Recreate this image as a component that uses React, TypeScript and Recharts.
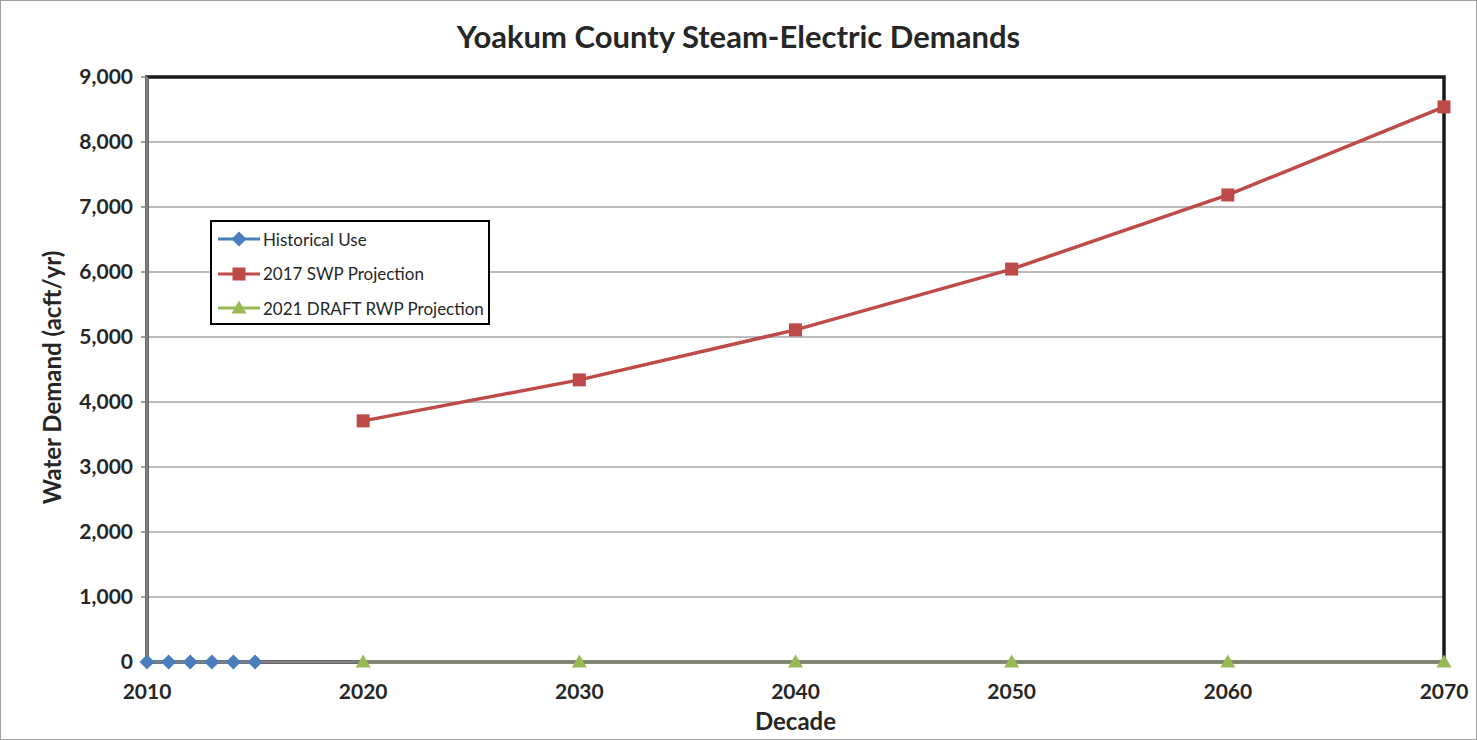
import React from 'react';
import { LineChart, Line, XAxis, YAxis, CartesianGrid, ReferenceArea } from 'recharts';

// Historical use (yearly), 2010-2015
const historicalYears = [2010, 2011, 2012, 2013, 2014, 2015];
const historicalUse = [0, 0, 0, 0, 0, 0];

// Decadal projections
const decades = [2020, 2030, 2040, 2050, 2060, 2070];
const swp2017 = [3710, 4340, 5110, 6045, 7185, 8540];
const rwp2021 = [0, 0, 0, 0, 0, 0];

const xTicks = [2010, 2020, 2030, 2040, 2050, 2060, 2070];
const yTicks = [0, 1000, 2000, 3000, 4000, 5000, 6000, 7000, 8000, 9000];

const BLUE = '#4a7ebb';
const RED = '#be4b48';
const GREEN = '#98b954';
const FONT = 'Lato, "Open Sans", sans-serif';

const historicalData = historicalYears.map((year, i) => ({ year, value: historicalUse[i] }));
const swpData = decades.map((year, i) => ({ year, value: swp2017[i] }));
const rwpData = decades.map((year, i) => ({ year, value: rwp2021[i] }));

const Diamond = ({ cx, cy, fill }: any) => {
    if (cx == null || cy == null) return null;
    return <path d={`M${cx},${cy - 7.5}L${cx + 7.5},${cy}L${cx},${cy + 7.5}L${cx - 7.5},${cy}Z`} fill={fill} />;
};
const Square = ({ cx, cy, fill }: any) => {
    if (cx == null || cy == null) return null;
    return <rect x={cx - 6.5} y={cy - 6.5} width={13} height={13} fill={fill} />;
};
const Triangle = ({ cx, cy, fill }: any) => {
    if (cx == null || cy == null) return null;
    return <path d={`M${cx},${cy - 7.5}L${cx + 7.5},${cy + 5.5}L${cx - 7.5},${cy + 5.5}Z`} fill={fill} />;
};

const legendItems = [
    { name: 'Historical Use', color: BLUE, Marker: Diamond },
    { name: '2017 SWP Projection', color: RED, Marker: Square },
    { name: '2021 DRAFT RWP Projection', color: GREEN, Marker: Triangle },
];

const LegendBox = () => (
    <div style={{ position: 'absolute', left: 210, top: 220, width: 276, height: 101, border: '2px solid #000', background: '#fff', fontFamily: FONT, fontSize: 17, color: '#262626' }}>
        {legendItems.map((item, i) => (
            <div key={i} style={{ display: 'flex', alignItems: 'center', height: 34.5 }}>
                <svg width={47} height={20} style={{ marginLeft: 4 }}>
                    <line x1={2} y1={10} x2={44} y2={10} stroke={item.color} strokeWidth={3} />
                    <item.Marker cx={23} cy={10} fill={item.color} />
                </svg>
                <span>{item.name}</span>
            </div>
        ))}
    </div>
);

const App: React.FC = () => {
    return (
        <div style={{ position: 'absolute', left: 0, top: 0, width: 1477, height: 740, background: '#fff' }}>
            <div style={{ position: 'absolute', left: 0, right: 0, top: 17, textAlign: 'center', fontFamily: FONT, fontWeight: 700, fontSize: 31, color: '#262626' }}>
                Yoakum County Steam-Electric Demands
            </div>
            <LineChart width={1477} height={740} margin={{ top: 77, right: 33, bottom: 18, left: 30 }} style={{ position: 'absolute', left: 0, top: 0 }}>
                <CartesianGrid vertical={false} stroke="#a6a6a6" strokeWidth={1.5} />
                <ReferenceArea x1={2010} x2={2070} y1={0} y2={9000} fill="none" stroke="#1a1a1a" strokeWidth={3.5} ifOverflow="visible" />
                <XAxis
                    dataKey="year"
                    type="number"
                    domain={[2010, 2070]}
                    ticks={xTicks}
                    height={60}
                    allowDuplicatedCategory={false}
                    tickLine={false}
                    axisLine={{ stroke: '#808080', strokeWidth: 3 }}
                    tick={{ fill: '#262626', fontSize: 21, fontWeight: 700, fontFamily: FONT }}
                    tickMargin={16}
                    label={{ value: 'Decade', position: 'insideBottom', offset: -8, fill: '#262626', fontSize: 24, fontWeight: 700, fontFamily: FONT }}
                />
                <YAxis
                    type="number"
                    domain={[0, 9000]}
                    ticks={yTicks}
                    width={117}
                    tickLine={{ stroke: '#808080', strokeWidth: 1.5 }}
                    tickSize={6}
                    axisLine={{ stroke: '#808080', strokeWidth: 3 }}
                    tickFormatter={(v: number) => v.toLocaleString('en-US')}
                    tick={{ fill: '#262626', fontSize: 21, fontWeight: 700, fontFamily: FONT }}
                    tickMargin={8}
                    label={{ value: 'Water Demand (acft/yr)', angle: -90, position: 'insideLeft', offset: 22, dy: 8, style: { textAnchor: 'middle' }, fill: '#262626', fontSize: 24, fontWeight: 700, fontFamily: FONT }}
                />
                <Line data={rwpData} dataKey="value" name="2021 DRAFT RWP Projection" stroke={GREEN} strokeWidth={3.5} dot={(p: any) => <Triangle key={p.index} cx={p.cx} cy={p.cy} fill={GREEN} />} isAnimationActive={false} />
                <Line data={swpData} dataKey="value" name="2017 SWP Projection" stroke={RED} strokeWidth={3.5} dot={(p: any) => <Square key={p.index} cx={p.cx} cy={p.cy} fill={RED} />} isAnimationActive={false} />
                <Line data={historicalData} dataKey="value" name="Historical Use" stroke={BLUE} strokeWidth={3.5} dot={(p: any) => <Diamond key={p.index} cx={p.cx} cy={p.cy} fill={BLUE} />} isAnimationActive={false} />
            </LineChart>
            <LegendBox />
            <div style={{ position: 'absolute', left: 0, top: 0, width: 1475, height: 738, border: '1px solid #a0a0a0', pointerEvents: 'none' }} />
        </div>
    );
};

export default App;
